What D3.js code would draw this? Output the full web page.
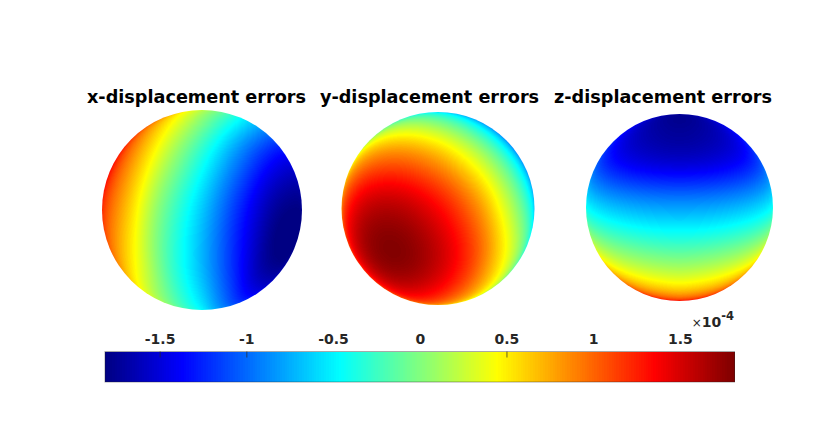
<!DOCTYPE html>
<html><head><meta charset="utf-8">
<script src="https://cdn.jsdelivr.net/npm/d3@7"></script>
<style>html,body{margin:0;padding:0;background:#fff;overflow:hidden}svg{display:block}text{font-family:"DejaVu Sans",sans-serif}</style>
</head><body>
<svg id="chart" width="830" height="435"></svg>
<script>
// Values in units of 1e-4 at sphere latitude (rows) and longitude (columns)
const latitudes = [90, 60, 30, 0, -30, -60, -90];
const longitudes = [-90, -67.5, -45, -22.5, 0, 22.5, 45, 67.5, 90];
const titles = ["x-displacement errors", "y-displacement errors", "z-displacement errors"];
const colorbarTicks = [-1.5, -1, -0.5, 0, 0.5, 1, 1.5];
const markedTicks = [-1.5, -1, 0.5];
const xErrors = [
  [0.25, 0.25, 0.25, 0.25, 0.25, 0.25, 0.25, 0.25, 0.25],
  [0.98, 0.78, 0.54, 0.27, -0.02, -0.29, -0.49, -0.62, -0.65],
  [1.36, 1.06, 0.66, 0.14, -0.38, -0.88, -1.25, -1.42, -1.40],
  [1.25, 1.00, 0.58, -0.07, -0.65, -1.25, -1.70, -1.81, -1.74],
  [0.95, 0.72, 0.34, -0.22, -0.72, -1.25, -1.70, -1.80, -1.68],
  [0.30, 0.17, -0.05, -0.32, -0.61, -0.95, -1.22, -1.34, -1.28],
  [-0.43, -0.43, -0.43, -0.43, -0.43, -0.43, -0.43, -0.43, -0.43]
];
const yErrors = [
  [-0.62, -0.62, -0.62, -0.62, -0.62, -0.62, -0.62, -0.62, -0.62],
  [-0.18, 0.02, 0.14, 0.15, 0.05, -0.14, -0.39, -0.65, -0.88],
  [0.35, 0.74, 0.96, 0.98, 0.79, 0.42, -0.04, -0.51, -0.92],
  [0.81, 1.29, 1.58, 1.60, 1.36, 0.91, 0.30, -0.25, -0.72],
  [1.07, 1.50, 1.75, 1.77, 1.56, 1.16, 0.62, 0.13, -0.33],
  [1.02, 1.27, 1.41, 1.42, 1.30, 1.07, 0.78, 0.47, 0.19],
  [0.69, 0.69, 0.69, 0.69, 0.69, 0.69, 0.69, 0.69, 0.69]
];
const zErrors = [
  [-1.72, -1.72, -1.72, -1.72, -1.72, -1.72, -1.72, -1.72, -1.72],
  [-1.36, -1.51, -1.64, -1.72, -1.75, -1.72, -1.64, -1.51, -1.36],
  [-1.02, -1.22, -1.40, -1.51, -1.55, -1.51, -1.40, -1.22, -1.02],
  [-0.38, -0.54, -0.68, -0.77, -0.80, -0.77, -0.68, -0.54, -0.38],
  [0.45, 0.25, 0.07, -0.05, -0.10, -0.05, 0.07, 0.25, 0.45],
  [1.10, 0.92, 0.76, 0.65, 0.60, 0.65, 0.76, 0.92, 1.10],
  [1.42, 1.42, 1.42, 1.42, 1.42, 1.42, 1.42, 1.42, 1.42]
];
const fields = [xErrors, yErrors, zErrors];
const colorLimit = 1.815;

// Layout (not data)
const discs = [
  {cx: 202, cy: 210, r: 100, titleX: 196.5},
  {cx: 438, cy: 208.5, r: 96.5, titleX: 429.5},
  {cx: 679.5, cy: 207.5, r: 93.5, titleX: 663}
];
const bar = {x0: 105, x1: 734.5, y0: 351.5, y1: 382};
const titleY = 103;
const levels = 256;

// MATLAB jet colormap
const clamp01 = v => Math.max(0, Math.min(1, v));
const jet = t => {
  const c = (a, b) => Math.round(255 * clamp01(Math.min(4 * t + a, -4 * t + b)));
  return `rgb(${c(-1.5, 4.5)},${c(-0.5, 3.5)},${c(0.5, 2.5)})`;
};
const jetColors = d3.range(levels).map(i => jet((i + 1) / levels));
const bandOf = d3.scaleQuantize().domain([-colorLimit, colorLimit]).range(d3.range(levels));

// Smooth read-out of a table
const latIndex = d3.scaleLinear().domain([90, -90]).range([0, latitudes.length - 1]);
const lonIndex = d3.scaleLinear().domain([-90, 90]).range([0, longitudes.length - 1]);
const cubic = (p, f) => {
  const n = p.length - 1, i = Math.max(0, Math.min(n - 1, Math.floor(f))), t = f - i;
  const p1 = p[i], p2 = p[i + 1];
  const p0 = i > 0 ? p[i - 1] : 3 * p[0] - 3 * p[1] + p[2];
  const p3 = i + 2 <= n ? p[i + 2] : 3 * p[n] - 3 * p[n - 1] + p[n - 2];
  return 0.5 * (2 * p1 + (p2 - p0) * t + (2 * p0 - 5 * p1 + 4 * p2 - p3) * t * t + (3 * p1 - p0 - 3 * p2 + p3) * t * t * t);
};
const sample = (grid, lat, lon) => {
  const col = lonIndex(lon), row = latIndex(lat);
  return cubic(grid.map(r => cubic(r, col)), row);
};

const svg = d3.select("#chart");
const deg = 180 / Math.PI;

discs.forEach((disc, k) => {
  const grid = fields[k];
  const px = d3.scaleLinear().domain([-1, 1]).range([disc.cx - disc.r, disc.cx + disc.r]);
  const py = d3.scaleLinear().domain([1, -1]).range([disc.cy - disc.r, disc.cy + disc.r]);
  const bandPaths = d3.range(levels).map(() => []);
  const yStart = Math.floor(py(1)) - 1, yEnd = Math.ceil(py(-1)) + 1;
  const xStart = Math.floor(px(-1)) - 1, xEnd = Math.ceil(px(1)) + 1;
  for (let y = yStart; y < yEnd; y++) {
    let runBand = -1, runX = 0;
    for (let x = xStart; x <= xEnd; x++) {
      let band = -1;
      if (x < xEnd) {
        let u = px.invert(x + 0.5), v = py.invert(y + 0.5);
        const d = Math.hypot(u, v);
        if (d <= 1 + 2 / disc.r) {
          if (d > 0.9995) { u *= 0.9995 / d; v *= 0.9995 / d; }
          const lat = Math.asin(v) * deg;
          const lon = Math.atan2(u, Math.sqrt(Math.max(0, 1 - u * u - v * v))) * deg;
          band = bandOf(sample(grid, lat, lon));
        }
      }
      if (band !== runBand) {
        if (runBand >= 0) bandPaths[runBand].push(`M${runX} ${y}H${x}V${y + 1}H${runX}Z`);
        runBand = band; runX = x;
      }
    }
  }
  const g = svg.append("g");
  g.append("clipPath").attr("id", "disc" + k).append("circle")
    .attr("cx", disc.cx).attr("cy", disc.cy).attr("r", disc.r);
  g.append("g").attr("clip-path", `url(#disc${k})`)
    .selectAll("path").data(bandPaths).join("path")
    .attr("d", d => d.join(""))
    .attr("fill", (d, i) => jetColors[i])
    .attr("shape-rendering", "crispEdges");
  svg.append("text").attr("x", disc.titleX).attr("y", titleY)
    .attr("text-anchor", "middle").attr("font-size", 17.65).attr("font-weight", "bold")
    .attr("fill", "#000").text(titles[k]);
});

// Colorbar
const barX = d3.scaleLinear().domain([-colorLimit, colorLimit]).range([bar.x0, bar.x1]);
const step = (2 * colorLimit) / levels;
svg.append("g").selectAll("rect").data(d3.range(levels)).join("rect")
  .attr("x", i => barX(-colorLimit + i * step))
  .attr("width", i => barX(-colorLimit + (i + 1) * step) - barX(-colorLimit + i * step) + 0.5)
  .attr("y", bar.y0).attr("height", bar.y1 - bar.y0)
  .attr("fill", i => jetColors[i]).attr("shape-rendering", "crispEdges");
svg.append("rect").attr("x", bar.x0).attr("y", bar.y0)
  .attr("width", bar.x1 - bar.x0).attr("height", bar.y1 - bar.y0)
  .attr("fill", "none").attr("stroke", "#262626").attr("stroke-opacity", 0.4).attr("stroke-width", 1);
const axis = d3.axisTop(barX).tickValues(colorbarTicks).tickFormat(d => String(d))
  .tickSizeInner(-6).tickSizeOuter(0).tickPadding(7.5);
const axisG = svg.append("g").attr("transform", `translate(0,${bar.y0})`).call(axis);
axisG.select(".domain").remove();
axisG.selectAll("line").attr("stroke", "#262626")
  .attr("stroke-opacity", d => markedTicks.includes(d) ? 0.7 : 0);
axisG.selectAll("text").attr("font-family", '"DejaVu Sans",sans-serif')
  .attr("font-size", 14).attr("font-weight", "bold").attr("fill", "#262626");

// Exponent label
const expo = svg.append("text").attr("x", 734).attr("y", 326.5).attr("text-anchor", "end")
  .attr("fill", "#262626").attr("font-weight", "bold").attr("font-size", 14);
expo.append("tspan").attr("font-weight", "normal").attr("font-size", 12).attr("dx", 0).text("\u00d7");
expo.append("tspan").text("10");
expo.append("tspan").attr("font-size", 11.5).attr("dy", -6.5).text("-4");
</script>
</body></html>
